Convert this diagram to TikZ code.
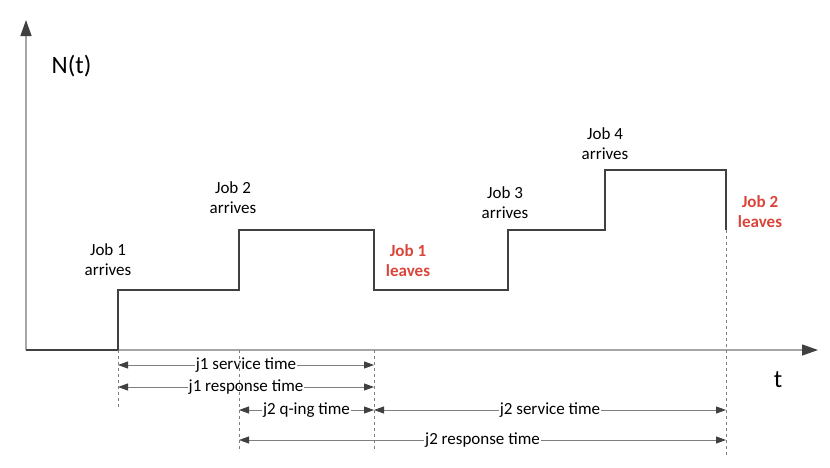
\documentclass[tikz,border=0pt]{standalone}
\usepackage{fontspec}
\setmainfont{Carlito}
\usetikzlibrary{arrows.meta,positioning,calc}
\definecolor{axisgray}{HTML}{A6A6A6}
\definecolor{stepgray}{HTML}{404040}
\definecolor{dimgray}{HTML}{7F7F7F}
\definecolor{leavered}{HTML}{D9453B}

\begin{document}
\begin{tikzpicture}[x=1pt,y=-1pt,
    axis/.style={axisgray,line width=1.3pt,-{Triangle[length=16pt,width=11pt,color=stepgray]}},
    stepline/.style={stepgray,line width=1.8pt},
    guide/.style={dimgray,dash pattern=on 3pt off 3pt,line width=0.7pt},
    span/.style={dimgray,line width=0.9pt,{Triangle[length=10pt,width=7pt,color=stepgray]}-{Triangle[length=10pt,width=7pt,color=stepgray]}},
    spanlabel/.style={fill=white,text=black,inner sep=1pt,font=\fontsize{17}{20}\selectfont},
    event/.style={align=center,inner sep=0pt,font=\fontsize{17}{20}\selectfont},
    leave/.style={event,text=leavered,font=\fontsize{17}{20}\selectfont\bfseries}]
    \useasboundingbox (0,0) rectangle (830,467);

    \coordinate (O) at (26,350);
    \coordinate (ytip) at (26,20);
    \coordinate (xtip) at (818,350);
    \coordinate (a1) at (118,350);
    \coordinate (a2) at (239,350);
    \coordinate (d1) at (374,350);
    \coordinate (d2) at (726,350);
    \coordinate (r1) at (0,365);
    \coordinate (r2) at (0,387);
    \coordinate (r3) at (0,410);
    \coordinate (r4) at (0,440);

    % axes
    \draw[axis] (O) -- (ytip);
    \draw[axis] (O) -- (xtip);
    \node[font=\fontsize{25}{30}\selectfont] (nt) at (71.5,66) {N(t)};
    \node[font=\fontsize{25}{30}\selectfont] (tt) at (778,380) {t};

    % number of jobs
    \draw[stepline] (O) -- (118,350) -- (118,290) -- (239,290) -- (239,230) -- (374,230) -- (374,290)
        -- (508,290) -- (508,230) -- (605,230) -- (605,170) -- (726,170) -- (726,230);

    \node[event] (j1a) at (108,260) {Job 1\\arrives};
    \node[event] (j2a) at (233,197.5) {Job 2\\arrives};
    \node[leave] (j1l) at (408,261) {Job 1\\leaves};
    \node[event] (j3a) at (505,203) {Job 3\\arrives};
    \node[event] (j4a) at (605,143.5) {Job 4\\arrives};
    \node[leave] (j2l) at (760,212) {Job 2\\leaves};

    % times
    \draw[span] (a1 |- r1) -- node[spanlabel] {j1 service time} (d1 |- r1);
    \draw[span] (a1 |- r2) -- node[spanlabel] {j1 response time} (d1 |- r2);
    \draw[span] (a2 |- r3) -- node[spanlabel] {j2 q-ing time} (d1 |- r3);
    \draw[span] (d1 |- r3) -- node[spanlabel] {j2 service time} (d2 |- r3);
    \draw[span] (a2 |- r4) -- node[spanlabel] {j2 response time} (d2 |- r4);

    \draw[guide] (a1) -- ++(0,58);
    \draw[guide] (a2) -- ++(0,102);
    \draw[guide] (d1) -- ++(0,102);
    \draw[guide] (726,230) -- ++(0,225);
\end{tikzpicture}
\end{document}
